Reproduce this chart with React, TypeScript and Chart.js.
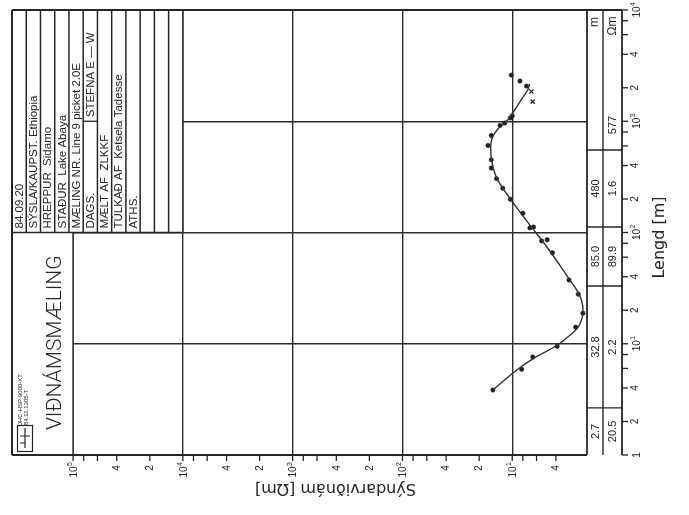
import React, { useEffect, useRef } from 'react';
import { Chart, registerables } from 'chart.js';
Chart.register(...registerables);

// Measured soundings: Lengd (AB/2, m) and apparent resistivity (Ωm)
const measLengd = [3.84, 5.9, 7.6, 9.5, 14.1, 18.8, 27.9, 37.4, 65.7, 84, 86, 110, 112, 149, 199, 250, 305, 380, 450, 605, 745, 916, 965, 1070, 1115, 2070, 2300, 2600];
const measRho = [15.0, 8.2, 6.5, 3.9, 2.64, 2.27, 2.5, 3.04, 4.3, 5.4, 4.8, 6.9, 6.4, 8.0, 10.4, 12.2, 13.9, 15.5, 15.5, 16.6, 15.5, 12.9, 11.7, 10.4, 10.0, 7.4, 8.5, 10.2];
// Rejected points (x marks)
const rejLengd = [1500, 1850];
const rejRho = [6.5, 6.7];
// Interpreted model curve
const modelLengd = [3.84, 4.7, 5.9, 7.65, 9.4, 11.2, 14.2, 18.8, 24.7, 31.5, 37.4, 51, 78.8, 117, 177, 250, 322, 430, 575, 722, 888, 1026, 1262, 1585, 1910, 2160];
const modelRho = [15.0, 11.8, 8.9, 6.02, 4.1, 3.21, 2.5, 2.27, 2.34, 2.64, 2.99, 3.69, 5.06, 6.93, 9.49, 12.2, 14.1, 15.3, 15.7, 15.1, 13.0, 11.0, 9.49, 8.19, 7.22, 6.93];

// Layer table
const layerThickness = ['2.7', '32.8', '85.0', '480', ''];
const layerRho = ['20.5', '2.2', '89.9', '1.6', '577'];
const layerBoundaries = [2.65, 33, 112, 552];

// Axes
const rhoMin = 1;
const rhoMax = 360000;
const rhoTickTop = 100000;
const lengdMin = 1;
const lengdMax = 10000;
const tickMantissas = [1, 2, 4, 6, 8];
const labelMantissas = [2, 4];
const rhoGridDecades = [10, 100, 1000, 10000, 100000];
const lengdGridDecades = [10, 100, 1000];

// Info block
const infoTexts = ['84.09.20', 'SÝSLA/KAUPST. Ethiopia', 'HREPPUR  Sidamo', 'STAÐUR  Lake Abaya', 'MÆLING NR. Line 9 picket 2.0E', 'DAGS.', 'MÆLT AF  ZLKKF', 'TÚLKAÐ AF  Ketsela Tadesse', 'ATHS.', '', '', ''];
const stefnaText = 'STEFNA E — W';
const titleText = 'VIÐNÁMSMÆLING';
const codeLines = ['JHC-HSP-9000-XT', '84.11.1305-T'];
const xTitle = 'Sýndarviðnám [Ωm]';
const yTitle = 'Lengd [m]';

const INK = '#262626';
const SANS = '"Liberation Sans", Arial, sans-serif';
const UP = -Math.PI / 2;

function line(ctx: CanvasRenderingContext2D, x1: number, y1: number, x2: number, y2: number, w = 1.5, c = INK) {
  ctx.save();
  ctx.strokeStyle = c;
  ctx.lineWidth = w;
  ctx.beginPath();
  ctx.moveTo(x1, y1);
  ctx.lineTo(x2, y2);
  ctx.stroke();
  ctx.restore();
}

function rtext(ctx: CanvasRenderingContext2D, s: string, x: number, y: number, angle: number, font: string, align: CanvasTextAlign = 'center', baseline: CanvasTextBaseline = 'middle') {
  ctx.save();
  ctx.translate(x, y);
  ctx.rotate(angle);
  ctx.font = font;
  ctx.textAlign = align;
  ctx.textBaseline = baseline;
  ctx.fillStyle = INK;
  ctx.fillText(s, 0, 0);
  ctx.restore();
}

function decadeLabel(ctx: CanvasRenderingContext2D, x: number, y: number, exp: number) {
  ctx.save();
  ctx.translate(x, y);
  ctx.rotate(UP);
  ctx.fillStyle = INK;
  ctx.textBaseline = 'middle';
  ctx.textAlign = 'left';
  ctx.font = '10px ' + SANS;
  const w1 = ctx.measureText('10').width;
  ctx.font = '7px ' + SANS;
  const w2 = ctx.measureText(String(exp)).width;
  const start = -(w1 + w2) / 2;
  ctx.font = '10px ' + SANS;
  ctx.fillText('10', start, 0);
  ctx.font = '7px ' + SANS;
  ctx.fillText(String(exp), start + w1 + 0.5, -4);
  ctx.restore();
}

const TABLE_W = 35;

const overlayPlugin = {
  id: 'overlay',
  beforeDraw(chart: any) {
    const ctx = chart.ctx;
    ctx.save();
    ctx.fillStyle = '#fff';
    ctx.fillRect(0, 0, chart.width, chart.height);
    ctx.restore();
  },
  beforeDatasetsDraw(chart: any) {
    const ctx: CanvasRenderingContext2D = chart.ctx;
    const ca = chart.chartArea;
    const xs = chart.scales.x;
    const ys = chart.scales.y;
    const L = ca.left, T = ca.top, B = ca.bottom, R = ca.right;
    const plotR = R - TABLE_W;
    const X4 = xs.getPixelForValue(10000);
    const X5 = xs.getPixelForValue(100000);
    const Y2 = ys.getPixelForValue(100);
    const Y3 = ys.getPixelForValue(1000);

    // white covers
    ctx.save();
    ctx.fillStyle = '#fff';
    ctx.fillRect(L, T, X4 - L, Y2 - T);
    ctx.fillRect(L, Y2, X5 - L, B - Y2);
    ctx.fillRect(plotR, T - 1, R - plotR + 1, B - T + 2);
    ctx.restore();

    // info table
    const nCols = infoTexts.length;
    const cw = (X4 - L) / nCols;
    for (let i = 1; i <= nCols; i++) line(ctx, L + i * cw, T, L + i * cw, Y2, 1.5);
    line(ctx, L, Y2, X4, Y2, 1.6);
    infoTexts.forEach((s, i) => {
      if (!s) return;
      rtext(ctx, s, L + (i + 0.5) * cw + 0.5, Y2 - 4, UP, '11.5px ' + SANS, 'left', 'middle');
    });
    const dagsCol = infoTexts.indexOf('DAGS.');
    line(ctx, L + dagsCol * cw, Y3, L + (dagsCol + 1) * cw, Y3, 1.3);
    rtext(ctx, stefnaText, L + (dagsCol + 0.5) * cw + 0.5, Y3 - 4, UP, '11.5px ' + SANS, 'left', 'middle');

    // title block
    line(ctx, X5, Y2, X5, B, 1.5);
    rtext(ctx, titleText, 56, (Y2 + B) / 2 - 1, UP, '300 21px Roboto, ' + SANS);
    rtext(ctx, codeLines[0], 20, B - 30, UP, '6px ' + SANS, 'left');
    rtext(ctx, codeLines[1], 26, B - 30, UP, '6px ' + SANS, 'left');
    ctx.save();
    ctx.strokeStyle = INK;
    ctx.lineWidth = 1.2;
    ctx.strokeRect(17.5, B - 29.5, 15, 26);
    ctx.beginPath();
    ctx.moveTo(25, B - 27);
    ctx.lineTo(25, B - 7);
    ctx.moveTo(20, B - 19);
    ctx.lineTo(30, B - 19);
    ctx.moveTo(20, B - 12);
    ctx.lineTo(25, B - 12);
    ctx.stroke();
    ctx.restore();

    // layer table
    const divX = plotR + 16;
    line(ctx, divX, T, divX, B, 1.4);
    const bys = layerBoundaries.map((d) => ys.getPixelForValue(d));
    bys.forEach((by) => line(ctx, plotR, by, R, by, 1.4));
    const rowEdges = [B, ...bys];
    layerRho.forEach((r, i) => {
      let cy: number;
      if (i < bys.length) cy = (rowEdges[i] + rowEdges[i + 1]) / 2;
      else cy = bys[bys.length - 1] - 25;
      if (layerThickness[i]) rtext(ctx, layerThickness[i], (plotR + divX) / 2 + 0.5, cy, UP, '11px ' + SANS);
      rtext(ctx, r, (divX + R) / 2 + 0.5, cy, UP, '11px ' + SANS);
    });
    rtext(ctx, 'm', (plotR + divX) / 2, T + 12, UP, '12px ' + SANS);
    rtext(ctx, 'Ωm', (divX + R) / 2 + 0.5, T + 16, UP, '12px ' + SANS);

    // borders
    line(ctx, L, T, R, T, 2);
    line(ctx, L, T, L, B, 2);
    line(ctx, L, B, plotR, B, 2);
    line(ctx, plotR, T, plotR, B, 1.8);
    line(ctx, R, T, R, B, 1.8);

    // bottom (resistivity) ticks & labels
    for (let k = 0; k <= 5; k++) {
      tickMantissas.forEach((m) => {
        const v = m * Math.pow(10, k);
        if (v > rhoTickTop || v < rhoMin) return;
        const px = xs.getPixelForValue(v);
        if (px < L || px > plotR) return;
        line(ctx, px, B, px, B + 6, 1.3);
        if (m === 1) decadeLabel(ctx, px + 1, B + 15, k);
        else if (labelMantissas.includes(m)) rtext(ctx, String(m), px + 0.5, B + 13, UP, '10px ' + SANS);
      });
    }
    // right (Lengd) ticks & labels
    for (let k = 0; k <= 4; k++) {
      tickMantissas.forEach((m) => {
        const v = m * Math.pow(10, k);
        if (v > lengdMax || v < lengdMin) return;
        const py = ys.getPixelForValue(v);
        line(ctx, R, py, R + 6, py, 1.3);
        if (m === 1) {
          if (k === 0) rtext(ctx, '1', R + 15, py, UP, '10px ' + SANS);
          else decadeLabel(ctx, R + 15, py, k);
        } else if (labelMantissas.includes(m)) rtext(ctx, String(m), R + 13, py, UP, '10px ' + SANS);
      });
    }

    // axis titles
    rtext(ctx, xTitle, (L + plotR) / 2 + 36, B + 33, Math.PI, '16px "DejaVu Sans", sans-serif');
    rtext(ctx, yTitle, R + 38, (T + B) / 2 + 5, UP, '16px "DejaVu Sans", sans-serif');
  },
};

export default function App() {
  const ref = useRef<HTMLCanvasElement | null>(null);
  useEffect(() => {
    if (!ref.current) return;
    const meas = measLengd.map((l, i) => ({ x: measRho[i], y: l }));
    const rej = rejLengd.map((l, i) => ({ x: rejRho[i], y: l }));
    const model = modelLengd.map((l, i) => ({ x: modelRho[i], y: l }));
    const chart = new Chart(ref.current, {
      type: 'scatter',
      data: {
        datasets: [
          { label: 'model', data: model, showLine: true, borderColor: '#333', borderWidth: 1.4, pointRadius: 0, tension: 0.3, fill: false },
          { label: 'data', data: meas, pointRadius: 2.2, pointStyle: 'circle', backgroundColor: '#1e1e1e', borderColor: '#1e1e1e', borderWidth: 0.5, showLine: false },
          { label: 'rejected', data: rej, pointRadius: 3, pointStyle: 'crossRot', borderColor: '#1e1e1e', borderWidth: 1.2, showLine: false },
        ],
      },
      options: {
        animation: false,
        responsive: false,
        maintainAspectRatio: false,
        events: [],
        layout: { padding: { left: 12, top: 10, right: 0, bottom: 0 } },
        plugins: { legend: { display: false }, tooltip: { enabled: false } },
        scales: {
          x: {
            type: 'logarithmic',
            reverse: true,
            min: rhoMin,
            max: rhoMax,
            position: 'bottom',
            afterFit: (s: any) => { s.height = 60; },
            afterBuildTicks: (s: any) => { s.ticks = rhoGridDecades.map((v) => ({ value: v })); },
            ticks: { display: false },
            grid: { color: '#2e2e2e', lineWidth: 1.4, drawTicks: false },
            border: { display: false },
          },
          y: {
            type: 'logarithmic',
            min: lengdMin,
            max: lengdMax,
            position: 'right',
            afterFit: (s: any) => { s.width = 67; },
            afterBuildTicks: (s: any) => { s.ticks = lengdGridDecades.map((v) => ({ value: v })); },
            ticks: { display: false },
            grid: { color: '#2e2e2e', lineWidth: 1.4, drawTicks: false },
            border: { display: false },
          },
        },
      } as any,
      plugins: [overlayPlugin],
    });
    return () => chart.destroy();
  }, []);
  return (
    <div style={{ position: 'fixed', left: 0, top: 0, width: 689, height: 515, background: '#fff' }}>
      <canvas ref={ref} width={689} height={515} style={{ display: 'block' }} />
    </div>
  );
}
